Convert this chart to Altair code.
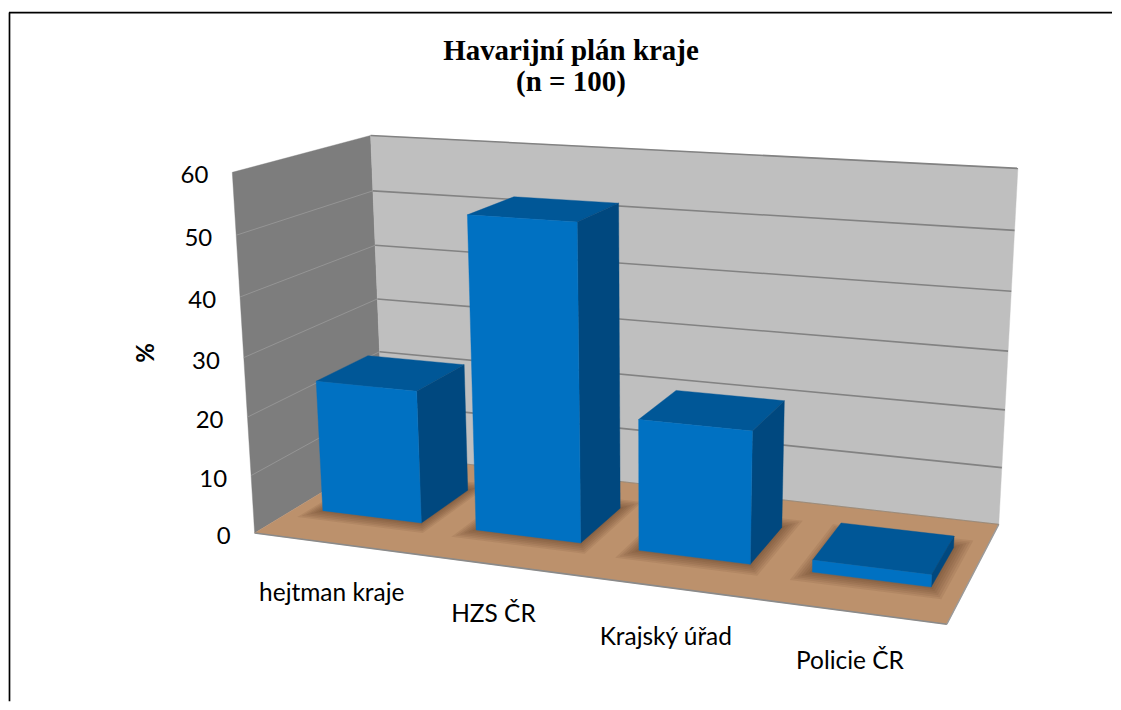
import numpy as np
import pandas as pd
import altair as alt

# --- chart values ---
categories = ["hejtman kraje", "HZS ČR", "Krajský úřad", "Policie ČR"]
values = [23, 53, 22, 2]
ticks = [0, 10, 20, 30, 40, 50, 60]
title_lines = ["Havarijní plán kraje", "(n = 100)"]
axis_title = "%"

# --- camera: (category position, value, depth) -> picture position ---
CAL_3D = [(0,60,0),(0,50,0),(0,40,0),(0,20,0),(0,10,0),(0,0,0),
          (0,60,1),(0,50,1),(0,40,1),(0,30,1),(0,20,1),(0,0,1),
          (4,60,1),(4,50,1),(4,40,1),(4,30,1),(4,20,1),(4,10,1),(4,0,1),(4,0,0)]
CAL_2D = [(232.5,172),(236.4,235),(240,297),(247,417),(250,475),(252.5,534),
          (370,135),(372.5,190.7),(374,245),(375.7,299),(378,351.7),(387,455),
          (1019,168),(1015.7,230),(1011.8,291.7),(1009,350.7),(1005.7,410),(1002.9,468.3),(999,524),(947.5,625)]
A, b = [], []
for (u, v, d), (x, y) in zip(CAL_3D, CAL_2D):
    A.append([u, v, d, 1, 0, 0, 0, 0, -x*u, -x*v, -x*d]); b.append(x)
    A.append([0, 0, 0, 0, u, v, d, 1, -y*u, -y*v, -y*d]); b.append(y)
m = np.linalg.lstsq(np.array(A, float), np.array(b, float), rcond=None)[0]
P = np.append(m, 1.0).reshape(3, 4)


def proj(u, v, d):
    q = P @ np.array([u, v, d, 1.0])
    return [float(q[0]/q[2]), float(q[1]/q[2])]


def poly(corners, fill, opacity=1.0, stroke=None):
    ring = [proj(*c) for c in corners]
    ring.append(ring[0])
    return {"type": "Feature", "geometry": {"type": "Polygon", "coordinates": [ring]},
            "properties": {"fill": fill, "op": opacity, "stroke": stroke or fill}}


def line(a, b, color, width):
    return {"type": "Feature", "geometry": {"type": "LineString", "coordinates": [proj(*a), proj(*b)]},
            "properties": {"stroke": color, "sw": width}}


def fc(features):
    return alt.InlineData(values={"type": "FeatureCollection", "features": features},
                          format=alt.DataFormat(property="features", type="json"))


PROJ = dict(type="identity", scale=1, translate=[-8, -8])
C_FRONT, C_TOP, C_SIDE = "#0071C2", "#005797", "#00487F"
BAR_M, D0, D1 = 0.175, 0.30, 0.70

# surfaces
surfaces = [
    poly([(0,0,0),(0,60,0),(0,60,1),(0,0,1)], "#7D7D7D"),
    poly([(0,0,1),(0,60,1),(4,60,1),(4,0,1)], "#BFBFBF"),
    poly([(0,0,0),(0,0,1),(4,0,1),(4,0,0)], "#BC916C"),
]
# grid and edges
lines = []
for t in ticks[1:]:
    lines.append(line((0,t,1),(4,t,1), "#828282", 1.6))
    if t < 60:
        lines.append(line((0,t,0),(0,t,1), "#959595", 1.0))
lines += [line((0,0,0),(4,0,0), "#8A8A8A", 1.6), line((4,0,0),(4,0,1), "#9A9A9A", 1.4),
          line((0,0,1),(4,0,1), "#8F8578", 0.8)]

# soft shadows and bars
shadows, bars = [], []
for i, val in enumerate(values):
    u0, u1 = i + BAR_M, i + 1 - BAR_M
    for k in range(1, 7):
        du, dd = 0.014 * k, 0.016 * k
        shadows.append(poly([(u0-du,0,D0-dd),(u1+du,0,D0-dd),(u1+du,0,D1+dd),(u0-du,0,D1+dd)], "#4A2F1A", 0.09))
    bars += [
        poly([(u0,val,D0),(u1,val,D0),(u1,val,D1),(u0,val,D1)], C_TOP),
        poly([(u1,0,D0),(u1,val,D0),(u1,val,D1),(u1,0,D1)], C_SIDE),
        poly([(u0,0,D0),(u1,0,D0),(u1,val,D0),(u0,val,D0)], C_FRONT),
    ]


def filled(features):
    return alt.Chart(fc(features)).mark_geoshape(strokeWidth=0.4).encode(
        color=alt.Color("properties.fill:N", scale=None),
        stroke=alt.Stroke("properties.stroke:N", scale=None),
        opacity=alt.Opacity("properties.op:Q", scale=None),
    ).project(**PROJ)


def stroked(features):
    return alt.Chart(fc(features)).mark_geoshape(filled=False).encode(
        stroke=alt.Stroke("properties.stroke:N", scale=None),
        strokeWidth=alt.StrokeWidth("properties.sw:Q", scale=None),
    ).project(**PROJ)


def shadow_layer(features):
    return alt.Chart(fc(features)).mark_geoshape(strokeWidth=0).encode(
        color=alt.Color("properties.fill:N", scale=None),
        opacity=alt.Opacity("properties.op:Q", scale=None),
    ).project(**PROJ)


# labels
FONT = "Lato"
tick_df = pd.DataFrame({"t": [str(t) for t in ticks],
                        "lon": [proj(0, t, 0)[0] for t in ticks],
                        "lat": [proj(0, t, 0)[1] for t in ticks]})
tick_text = alt.Chart(tick_df).mark_text(font=FONT, fontSize=24, align="right", baseline="middle",
                                         dx=-24, dy=4, color="#000000").encode(
    longitude="lon:Q", latitude="lat:Q", text="t:N").project(**PROJ)

cat_pts = [proj(i + 0.5, 0, 0) for i in range(len(categories))]
cat_df = pd.DataFrame({"c": categories, "lon": [p[0] for p in cat_pts], "lat": [p[1] for p in cat_pts]})
cat_text = alt.Chart(cat_df).mark_text(font=FONT, fontSize=24.5, align="center", baseline="middle",
                                       dy=51, color="#000000").encode(
    longitude="lon:Q", latitude="lat:Q", text="c:N").project(**PROJ)


def caption(text, x, y, **kw):
    return alt.Chart(pd.DataFrame({"t": [text]})).mark_text(
        align="center", baseline="middle", color="#000000", fontWeight="bold", **kw
    ).encode(x=alt.value(x), y=alt.value(y), text="t:N")


title1 = caption(title_lines[0], 563, 42, font="Liberation Serif", fontSize=29)
title2 = caption(title_lines[1], 563, 74, font="Liberation Serif", fontSize=29)
ytitle = caption(axis_title, 138, 345, font=FONT, fontSize=24, angle=270)

frame = alt.Chart(pd.DataFrame({"a": [0]})).mark_rule(color="#000000", strokeWidth=1.7).encode(
    x=alt.value(0.5), x2=alt.value(0.5), y=alt.value(4), y2=alt.value(694))
frame_top = alt.Chart(pd.DataFrame({"a": [0]})).mark_rule(color="#000000", strokeWidth=1.7).encode(
    x=alt.value(0), x2=alt.value(1105), y=alt.value(4))

chart = alt.layer(
    filled(surfaces), stroked(lines), shadow_layer(shadows), filled(bars),
    tick_text, cat_text, title1, title2, ytitle, frame, frame_top,
).properties(width=1105, height=694, padding=0, background="#FFFFFF"
).configure_view(stroke=None)

chart.save("out.html", embed_options={"renderer": "svg", "actions": False})
